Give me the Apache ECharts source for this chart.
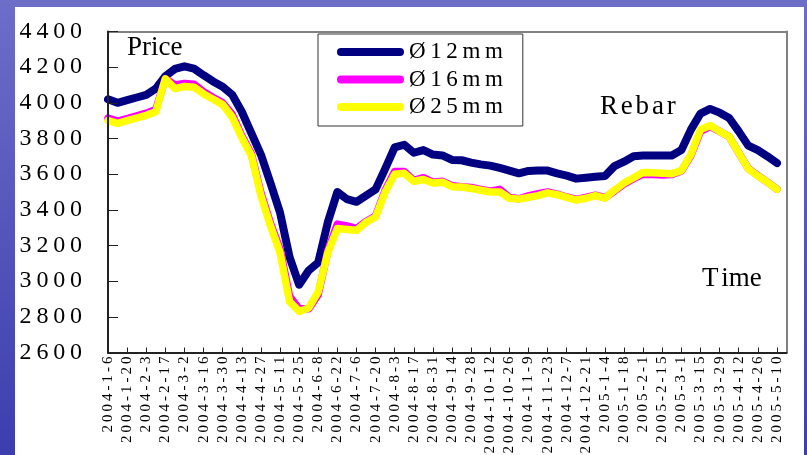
<!DOCTYPE html>
<html>
<head>
<meta charset="utf-8">
<script src="https://cdn.jsdelivr.net/npm/echarts@6/dist/echarts.min.js"></script>
<style>
  html, body { margin: 0; padding: 0; }
  body { width: 807px; height: 455px; position: relative; overflow: hidden;
         background: linear-gradient(to bottom, #6d6ec8, #3c3eae); }
  #panel { position: absolute; left: 15px; top: 7px; width: 789px; height: 448px; background: #ffffff; }
  #chart { position: absolute; left: 0; top: 0; width: 807px; height: 455px; }
</style>
</head>
<body>
<div id="panel"></div>
<div id="chart"></div>
<script>
// Weekly rebar price dates (2004-1-6 .. 2005-5-10), plus one trailing empty slot
const weeks = [
  '2004-1-6','2004-1-13','2004-1-20','2004-1-27','2004-2-3','2004-2-10','2004-2-17','2004-2-24',
  '2004-3-2','2004-3-9','2004-3-16','2004-3-23','2004-3-30','2004-4-6','2004-4-13','2004-4-20',
  '2004-4-27','2004-5-4','2004-5-11','2004-5-18','2004-5-25','2004-6-1','2004-6-8','2004-6-15',
  '2004-6-22','2004-6-29','2004-7-6','2004-7-13','2004-7-20','2004-7-27','2004-8-3','2004-8-10',
  '2004-8-17','2004-8-24','2004-8-31','2004-9-7','2004-9-14','2004-9-21','2004-9-28','2004-10-5',
  '2004-10-12','2004-10-19','2004-10-26','2004-11-2','2004-11-9','2004-11-16','2004-11-23','2004-11-30',
  '2004-12-7','2004-12-14','2004-12-21','2004-12-28','2005-1-4','2005-1-11','2005-1-18','2005-1-25',
  '2005-2-1','2005-2-8','2005-2-15','2005-2-22','2005-3-1','2005-3-8','2005-3-15','2005-3-22',
  '2005-3-29','2005-4-5','2005-4-12','2005-4-19','2005-4-26','2005-5-3','2005-5-10','2005-5-17'
];

// Price series by bar diameter
const rebar12 = [
  4020,4000,4015,4030,4045,4080,4150,4190,4205,4192,4155,4120,4090,4045,3950,3830,
  3710,3550,3385,3135,2980,3060,3105,3330,3500,3460,3445,3480,3515,3630,3750,3765,
  3720,3735,3710,3705,3680,3678,3665,3655,3648,3635,3620,3605,3618,3620,3620,3605,
  3592,3575,3580,3585,3590,3645,3670,3700,3705,3705,3705,3705,3735,3850,3940,3966,
  3945,3915,3840,3760,3735,3700,3662,null
];
const rebar16 = [
  3915,3898,3912,3927,3942,3962,4135,4100,4108,4104,4062,4030,4000,3935,3815,3715,
  3495,3325,3180,2915,2845,2845,2925,3170,3320,3310,3295,3335,3365,3510,3615,3615,
  3565,3580,3555,3560,3535,3530,3525,3515,3505,3515,3470,3462,3478,3490,3500,3488,
  3472,3458,3470,3482,3468,3505,3545,3575,3600,3598,3596,3598,3618,3705,3840,3868,
  3840,3810,3720,3632,3592,3556,3516,null
];
const rebar25 = [
  3900,3885,3900,3915,3930,3950,4135,4080,4092,4088,4050,4020,3990,3920,3805,3705,
  3480,3310,3160,2885,2830,2850,2940,3160,3295,3290,3285,3330,3360,3500,3600,3605,
  3560,3570,3550,3555,3530,3528,3520,3510,3500,3500,3465,3460,3470,3480,3495,3485,
  3470,3455,3465,3480,3465,3510,3550,3580,3610,3608,3605,3603,3620,3710,3850,3873,
  3840,3810,3720,3630,3590,3555,3515,null
];

const seriesNames = ['Ø12mm', 'Ø16mm', 'Ø25mm'];
const seriesColors = ['#000080', '#ff00ff', '#ffff00'];
const seriesData = [rebar12, rebar16, rebar25];
const lineWidths = [8, 7.5, 7.5];

const yMin = 2600, yMax = 4400, yStep = 200;

const SERIF = '"Liberation Serif", "Times New Roman", serif';
const spaced = (s, sep) => String(s).split('').join(sep || '\u2009');
// letters separated by small rich-text gaps
const gapped = s => s.split('').join('{g|\u2009}');

const chart = echarts.init(document.getElementById('chart'), null, { renderer: 'canvas' });

const annotation = (text, x, y) => ({
  type: 'text', z: 10, x, y,
  style: {
    text, fill: '#000', font: '27px ' + SERIF, textVerticalAlign: 'middle',
    rich: { g: { fontFamily: SERIF, fontSize: 14 } }
  }
});

// plain frame line for the top and right edges of the plot box
const frameAxis = { show: true, onZero: false, lineStyle: { color: '#808080', width: 2 } };

chart.setOption({
  animation: false,
  backgroundColor: 'transparent',
  graphic: [
    annotation('Price', 127, 48),
    annotation(gapped('Rebar'), 600, 107),
    annotation('T{g|\u2009}ime', 702, 279)
  ],
  grid: {
    left: 108, top: 31.5, right: 20.5, bottom: 102.5,
    containLabel: false,
    outerBoundsMode: 'none'
  },
  legend: {
    orient: 'vertical',
    left: 318, top: 34,
    padding: [6.5, 20, 7.5, 19],
    itemGap: 4.5,
    itemWidth: 67, itemHeight: 8,
    icon: 'path://M4,0L63,0A4,4,0,0,1,63,8L4,8A4,4,0,0,1,4,0Z',
    backgroundColor: '#ffffff',
    borderColor: '#333333', borderWidth: 1, borderRadius: 0,
    data: seriesNames,
    formatter: name => spaced(name),
    textStyle: { fontFamily: SERIF, fontSize: 23, lineHeight: 23, color: '#000' }
  },
  xAxis: [{
    type: 'category',
    data: weeks,
    boundaryGap: false,
    axisLine: { onZero: false, lineStyle: { color: '#222', width: 2 } },
    axisTick: { show: true, inside: true, length: 5, interval: 1, lineStyle: { color: '#222', width: 1 } },
    axisLabel: {
      interval: 1, rotate: 90, margin: 4,
      fontFamily: SERIF, fontSize: 15, color: '#000',
      formatter: v => spaced(v)
    },
    splitLine: { show: false },
    z: 5
  }, {
    type: 'category',
    data: weeks,
    boundaryGap: false,
    position: 'top',
    axisLine: frameAxis,
    axisTick: { show: false },
    axisLabel: { show: false },
    splitLine: { show: false }
  }],
  yAxis: [{
    type: 'value',
    min: yMin, max: yMax, interval: yStep,
    axisLine: { show: true, onZero: false, lineStyle: { color: '#222', width: 2 } },
    axisTick: { show: true, inside: true, length: 10, lineStyle: { color: '#222', width: 1 } },
    axisLabel: {
      margin: 26, fontFamily: SERIF, fontSize: 24, color: '#000',
      formatter: v => spaced(v)
    },
    splitLine: { show: false },
    z: 5
  }, {
    type: 'value',
    min: yMin, max: yMax, interval: yStep,
    position: 'right',
    axisLine: frameAxis,
    axisTick: { show: false },
    axisLabel: { show: false },
    splitLine: { show: false }
  }],
  series: seriesNames.map((name, i) => ({
    name,
    type: 'line',
    xAxisIndex: 0,
    yAxisIndex: 0,
    data: seriesData[i],
    symbol: 'none',
    showSymbol: false,
    color: seriesColors[i],
    itemStyle: { color: seriesColors[i] },
    lineStyle: { color: seriesColors[i], width: lineWidths[i], cap: 'round', join: 'round' },
    z: 2 + i
  }))
});
</script>
</body>
</html>
